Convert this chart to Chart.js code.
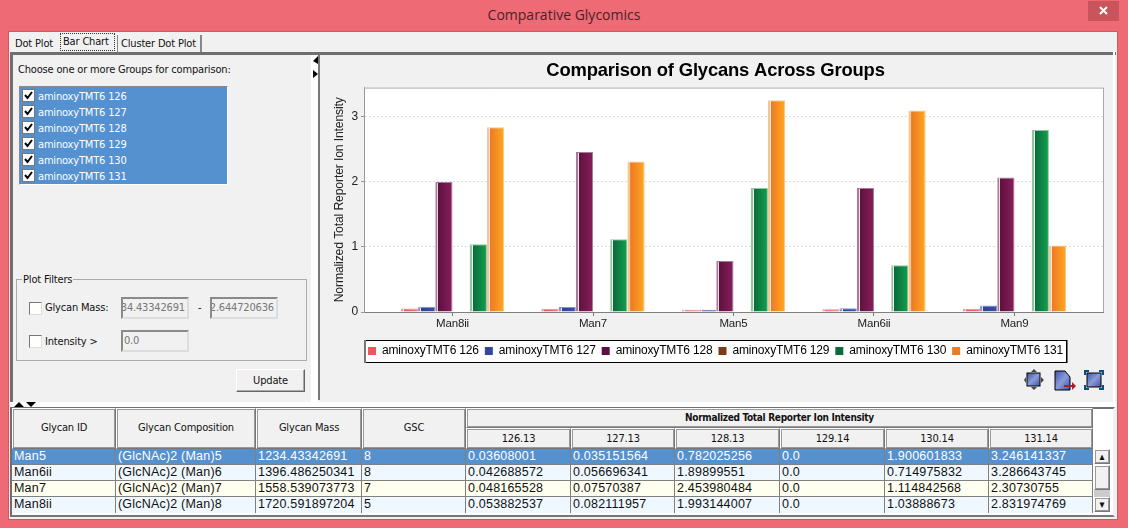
<!DOCTYPE html>
<html>
<head>
<meta charset="utf-8">
<title>Comparative Glycomics</title>
<script src="https://cdn.jsdelivr.net/npm/chart.js@4"></script>
<style>
  html, body { margin: 0; padding: 0; }
  body { width: 1128px; height: 528px; position: relative; overflow: hidden; background: #ee6a75; font-family: "DejaVu Sans Condensed", "DejaVu Sans", sans-serif; font-stretch: condensed; font-size: 11px; letter-spacing: -0.17px; color: #111; }
  .box { position: absolute; box-sizing: border-box; }
  .txt { position: absolute; white-space: nowrap; line-height: 16px; }
  .cell { position: absolute; box-sizing: border-box; white-space: nowrap; overflow: hidden; font-family: "Liberation Sans", sans-serif; font-size: 12.5px; line-height: 15px; padding: 0 0 0 2px; border-right: 1px solid #808080; border-bottom: 1px solid #808080; letter-spacing: 0.2px; }
  .head { position: absolute; box-sizing: border-box; text-align: center; background: #f1f1f1; font-size: 11px; border: 1px solid; border-color: #fff #777 #777 #fff; box-shadow: 0 0 0 1px #999 inset; }
  .check { position: absolute; box-sizing: border-box; width: 13px; height: 13px; background: #fff; border: 1px solid; border-color: #777 #ddd #ddd #777; line-height: 0; }
  .field { position: absolute; box-sizing: border-box; background: #f1f1f1; border: 2px solid; border-color: #8a8a8a #ddd #ddd #8a8a8a; color: #777; font-size: 11px; line-height: 18px; overflow: hidden; white-space: nowrap; padding: 0 2px 0 1px; display: flex; justify-content: flex-end; }
  canvas { position: absolute; left: 320px; top: 55px; }
</style>
</head>
<body>
<div class="box" style="left:1088px;top:1px;width:31px;height:20px;background:#c9545b;"></div>
<svg class="box" style="left:1099px;top:6px;" width="10" height="10"><path d="M1 1L8 8M8 1L1 8" stroke="#fff" stroke-width="2"/></svg>
<div class="txt" style="left:0;top:7px;width:1128px;text-align:center;font-family:'Open Sans';font-stretch:normal;letter-spacing:0;font-size:14px;color:#4a2226;">Comparative Glycomics</div>

<div class="box" style="left:8px;top:31px;width:1110px;height:489px;background:#f1f1f1;border:1px solid #d9545f;"></div>

<div class="txt" style="left:15px;top:36px;">Dot Plot</div>
<div class="box" style="left:60px;top:33px;width:55px;height:18px;border:1px dotted #333;"></div>
<div class="txt" style="left:63px;top:34px;">Bar Chart</div>
<div class="box" style="left:117px;top:35px;width:85px;height:17px;border-right:2px solid #888;border-left:1px solid #888;"></div>
<div class="txt" style="left:121px;top:36px;">Cluster Dot Plot</div>

<!-- panels -->
<div class="box" style="left:10px;top:52px;width:1106px;height:3px;background:#6f6f6f;"></div>
<div class="box" style="left:10px;top:52px;width:3px;height:350px;background:#6f6f6f;"></div>
<div class="box" style="left:311px;top:55px;width:7px;height:347px;background:#fff;"></div>
<div class="box" style="left:318px;top:55px;width:2px;height:345px;background:#777;"></div>
<div class="box" style="left:1113px;top:52px;width:2px;height:350px;background:#fff;"></div>
<div class="box" style="left:10px;top:402px;width:1106px;height:5px;background:#fff;"></div>
<svg class="box" style="left:312px;top:55px;" width="7" height="24"><path d="M6 1L1 6L6 9ZM1 15L6 19L1 23Z" fill="#000"/></svg>
<svg class="box" style="left:13px;top:401px;" width="24" height="6"><path d="M1 6L6 1L11 6ZM13 1L23 1L18 6Z" fill="#000"/></svg>

<div class="txt" style="left:18px;top:62px;">Choose one or more Groups for comparison:</div>
<div class="box" id="groupList" style="left:19px;top:86px;width:209px;height:99px;background:#5590cf;border:1px solid;border-color:#8a8a8a #fff #fff #8a8a8a;"></div>

<div class="box" style="left:16px;top:279px;width:291px;height:82px;border:1px solid #aaa;"></div>
<div class="txt" style="left:22px;top:272px;background:#f1f1f1;padding:0 1px;">Plot Filters</div>
<div class="check" style="left:29px;top:302px;"></div>
<div class="txt" style="left:45px;top:300px;">Glycan Mass:</div>
<div class="field" style="left:121px;top:297px;width:68px;height:22px;">34.43342691</div>
<div class="txt" style="left:198px;top:300px;">-</div>
<div class="field" style="left:210px;top:297px;width:68px;height:22px;">2.644720636</div>
<div class="check" style="left:29px;top:335px;"></div>
<div class="txt" style="left:45px;top:334px;">Intensity &gt;</div>
<div class="field" style="left:121px;top:330px;width:68px;height:22px;justify-content:flex-start;">0.0</div>
<div class="box" style="left:236px;top:369px;width:69px;height:23px;background:#f1f1f1;border:1px solid;border-color:#fff #666 #666 #fff;box-shadow:inset -1px -1px 0 #aaa;text-align:center;line-height:21px;">Update</div>

<canvas id="barChart" width="791" height="343"></canvas>

<svg class="box" style="left:1024px;top:369px;" width="90" height="22">
  <defs><linearGradient id="ic" x1="0" y1="0" x2="1" y2="1"><stop offset="0" stop-color="#3f55a8"/><stop offset="0.5" stop-color="#8a9bd8"/><stop offset="1" stop-color="#3f55a8"/></linearGradient></defs>
  <rect x="3" y="4" width="13" height="13" fill="url(#ic)" stroke="#000"/>
  <path d="M7 3L10 0L13 3ZM7 18L10 21L13 18ZM2 8L0 11L2 14ZM17 8L20 11L17 14Z" fill="#444"/>
  <path d="M31 2H41L46 8V21H31Z" fill="url(#ic)" stroke="#000"/>
  <path d="M40 16H48V13L52 17L48 21V18H40Z" fill="#b01c22"/>
  <rect x="63" y="4" width="14" height="14" fill="url(#ic)" stroke="#000"/>
  <path d="M61 6V2H65M75 2H79V6M61 16V20H65M79 16V20H75" stroke="#0a4f7d" stroke-width="2" fill="none"/>
</svg>

<!-- table -->
<div class="box" style="left:10px;top:407px;width:1105px;height:110px;background:#fff;border:2px solid #6f6f6f;border-right-color:#f1f1f1;border-bottom-color:#777;"></div>
<div id="glycanTable"></div>

<script>
const categories = ["Man8ii", "Man7", "Man5", "Man6ii", "Man9"];
const seriesNames = ["aminoxyTMT6 126", "aminoxyTMT6 127", "aminoxyTMT6 128", "aminoxyTMT6 129", "aminoxyTMT6 130", "aminoxyTMT6 131"];
const series126 = [0.054, 0.048, 0.036, 0.043, 0.05];
const series127 = [0.082, 0.076, 0.035, 0.057, 0.1];
const series128 = [1.993, 2.454, 0.782, 1.899, 2.06];
const series129 = [0, 0, 0, 0, 0];
const series130 = [1.039, 1.115, 1.901, 0.715, 2.79];
const series131 = [2.832, 2.307, 3.246, 3.087, 1.02];
const yTicks = [0, 1, 2, 3];

const solidColors = ["#f4525c", "#33469c", "#5e0f3f", "#7a3d1b", "#0b6b3a", "#ee7a23"];
const darkColors = ["#e8505a", "#2f4394", "#60103f", "#7a3d1b", "#0a6c3b", "#ec7a24"];
const brightColors = ["#f9747c", "#3c50aa", "#861f5c", "#9a5228", "#13a04f", "#ffa81f"];
const paleColors = ["#f58a90", "#8793c8", "#a67c98", "#bb9999", "#8fc6a0", "#f8c48f"];

const tableHeads = ["Glycan ID", "Glycan Composition", "Glycan Mass", "GSC"];
const tableSubHeads = ["126.13", "127.13", "128.13", "129.14", "130.14", "131.14"];
const tableRows = [
  ["Man5", "(GlcNAc)2 (Man)5", "1234.43342691", "8", "0.03608001", "0.035151564", "0.782025256", "0.0", "1.900601833", "3.246141337"],
  ["Man6ii", "(GlcNAc)2 (Man)6", "1396.486250341", "8", "0.042688572", "0.056696341", "1.89899551", "0.0", "0.714975832", "3.286643745"],
  ["Man7", "(GlcNAc)2 (Man)7", "1558.539073773", "7", "0.048165528", "0.07570387", "2.453980484", "0.0", "1.114842568", "2.30730755"],
  ["Man8ii", "(GlcNAc)2 (Man)8", "1720.591897204", "5", "0.053882537", "0.082111957", "1.993144007", "0.0", "1.03888673", "2.831974769"]
];
const rowColors = ["#5590cf", "#f0f8ff", "#fffff0", "#f0f8ff"];
const columnEdges = [12, 116, 256, 362, 466, 571, 675, 780, 885, 989, 1093];

function addDiv(parent, className, text, left, top, width, height) {
  const el = document.createElement("div");
  el.className = className;
  el.textContent = text;
  el.style.cssText = `left:${left}px;top:${top}px;width:${width}px;height:${height}px;`;
  parent.appendChild(el);
  return el;
}

// left side list
const groupList = document.getElementById("groupList");
seriesNames.forEach((name, i) => {
  const check = addDiv(groupList, "check", "", 2, 2 + i * 16, 13, 13);
  check.style.borderColor = "#777";
  check.innerHTML = '<svg width="11" height="11"><path d="M2 5L4.5 8L9 2" stroke="#000" stroke-width="2" fill="none"/></svg>';
  const label = addDiv(groupList, "txt", name, 18, 2 + i * 16, 180, 16);
  label.style.color = "#fff";
});

// table below the chart
const tableEl = document.getElementById("glycanTable");
tableHeads.forEach((text, i) => {
  const head = addDiv(tableEl, "head", text, columnEdges[i], 408, columnEdges[i + 1] - columnEdges[i], 41);
  head.style.lineHeight = "38px";
});
const bigHead = addDiv(tableEl, "head", "Normalized Total Reporter Ion Intensity", 466, 408, 627, 20);
bigHead.style.cssText += "font-weight:bold;font-size:10px;letter-spacing:-0.3px;line-height:18px;";
tableSubHeads.forEach((text, i) => {
  const head = addDiv(tableEl, "head", text, columnEdges[i + 4], 428, columnEdges[i + 5] - columnEdges[i + 4], 21);
  head.style.lineHeight = "19px";
});
tableRows.forEach((row, r) => {
  row.forEach((text, c) => {
    const cell = addDiv(tableEl, "cell", text, columnEdges[c], 449 + r * 16, columnEdges[c + 1] - columnEdges[c], 16);
    cell.style.background = rowColors[r];
    if (r === 0) cell.style.color = "#fff";
    if (r === 3) cell.style.borderBottom = "none";
  });
});
// scrollbar
addDiv(tableEl, "head", "\u25B4", 1094, 449, 16, 15).style.lineHeight = "13px";
addDiv(tableEl, "head", "", 1094, 465, 16, 25);
addDiv(tableEl, "box", "", 1094, 490, 16, 7).style.background = "#ccc";
addDiv(tableEl, "head", "\u25BE", 1094, 497, 16, 15).style.lineHeight = "13px";

function barGradient(context) {
  const i = context.datasetIndex;
  if (context.type !== "data") return solidColors[i];
  const { ctx, scales } = context.chart;
  const spacing = scales.x.getPixelForValue(1) - scales.x.getPixelForValue(0);
  if (!Number.isFinite(spacing)) return solidColors[i];
  const barWidth = spacing * 0.735 / 6;
  const left = scales.x.getPixelForValue(context.dataIndex) + (i - 3) * barWidth;
  const grad = ctx.createLinearGradient(left, 0, left + barWidth, 0);
  grad.addColorStop(0, paleColors[i]);
  grad.addColorStop(0.12, paleColors[i]);
  grad.addColorStop(0.13, "#f4e9ee");
  grad.addColorStop(0.17, "#f4e9ee");
  grad.addColorStop(0.18, darkColors[i]);
  grad.addColorStop(1, brightColors[i]);
  return grad;
}

const plotFrame = {
  id: "plotFrame",
  beforeDatasetsDraw(chart) {
    const { ctx, chartArea: a } = chart;
    ctx.save();
    ctx.strokeStyle = "#aaa";
    ctx.beginPath();
    ctx.moveTo(a.left, a.top + 0.5);
    ctx.lineTo(a.right + 0.5, a.top + 0.5);
    ctx.lineTo(a.right + 0.5, a.bottom);
    ctx.stroke();
    ctx.restore();
  },
  beforeDraw(chart) {
    const { ctx, chartArea: a, legend } = chart;
    ctx.save();
    ctx.fillStyle = "#f1f1f1";
    ctx.fillRect(0, 0, chart.width, chart.height);
    ctx.fillStyle = "#fff";
    ctx.fillRect(a.left, a.top, a.right - a.left, a.bottom - a.top);
    // legend frame around the entries only
    const hits = legend.legendHitBoxes;
    const first = hits[0], last = hits[hits.length - 1];
    const x = Math.round(first.left) - 4, w = Math.round(last.left + last.width) + 4 - x;
    const y = Math.round(first.top + first.height / 2) - 11, h = 23;
    ctx.fillRect(x, y, w, h);
    ctx.strokeStyle = "#000";
    ctx.strokeRect(x + 0.5, y + 0.5, w - 1, h - 1);
    ctx.fillStyle = "#777";
    ctx.fillRect(x, y, 2, h);
    ctx.fillRect(x + w, y, 1, h);
    ctx.restore();
  }
};

const datasets = [series126, series127, series128, series129, series130, series131].map((values, i) => ({
  label: seriesNames[i],
  data: values.map((v, k) => ({ x: k, y: v })),
  backgroundColor: barGradient,
  borderColor: paleColors[i],
  borderWidth: { top: 1, right: 1, left: 0, bottom: 0 },
  borderSkipped: false,
  categoryPercentage: 0.735,
  barPercentage: 1
}));

new Chart(document.getElementById("barChart"), {
  type: "bar",
  data: { datasets },
  plugins: [plotFrame],
  options: {
    responsive: false,
    animation: false,
    devicePixelRatio: 1,
    layout: { padding: { bottom: 31 } },
    plugins: {
      title: {
        display: true,
        text: "Comparison of Glycans Across Groups",
        color: "#000",
        font: { family: "Liberation Sans", size: 18.4, weight: "bold" },
        padding: { top: 5, bottom: 5.5 }
      },
      legend: {
        position: "bottom",
        labels: {
          boxWidth: 8,
          boxHeight: 8,
          padding: 6,
          color: "#111",
          font: { family: "Liberation Sans", size: 12 },
          generateLabels: () => seriesNames.map((name, i) => ({
            text: name,
            fillStyle: solidColors[i],
            strokeStyle: solidColors[i],
            lineWidth: 0,
            datasetIndex: i
          }))
        }
      },
      tooltip: { enabled: false }
    },
    scales: {
      x: {
        type: "linear",
        bounds: "data",
        offset: false,
        min: -0.63,
        max: 4.63,
        afterBuildTicks: scale => { scale.ticks = categories.map((_, k) => ({ value: k })); },
        ticks: {
          maxRotation: 0,
          autoSkip: false,
          padding: 1,
          color: "#222",
          font: { family: "Liberation Sans", size: 11.5 },
          callback: value => categories[value] ?? ""
        },
        grid: { offset: false, drawOnChartArea: false, tickLength: 4, color: "#777" },
        border: { color: "#808080" },
        afterFit: scale => { scale.height = 27; }
      },
      y: {
        bounds: "data",
        min: 0,
        max: 3.44,
        afterBuildTicks: scale => { scale.ticks = yTicks.map(v => ({ value: v })); },
        ticks: {
          color: "#222",
          font: { family: "Liberation Sans", size: 12 },
          callback: value => String(value)
        },
        grid: { color: "#ddd", tickLength: 3, tickColor: "#999", tickBorderDash: [] },
        border: { color: "#999", dash: [2, 2] },
        title: {
          display: true,
          text: "Normalized Total Reporter Ion Intensity",
          color: "#222",
          font: { family: "Liberation Sans", size: 12.25 },
          padding: { top: 12, bottom: 0 }
        },
        afterFit: scale => { scale.width = 44; }
      },
      // empty strip on the right so the title and legend stay centred on the whole panel
      rightGap: {
        type: "linear",
        position: "right",
        ticks: { display: false },
        grid: { display: false },
        border: { display: false },
        afterFit: scale => { scale.width = 8; }
      }
    }
  }
});
</script>
</body>
</html>
